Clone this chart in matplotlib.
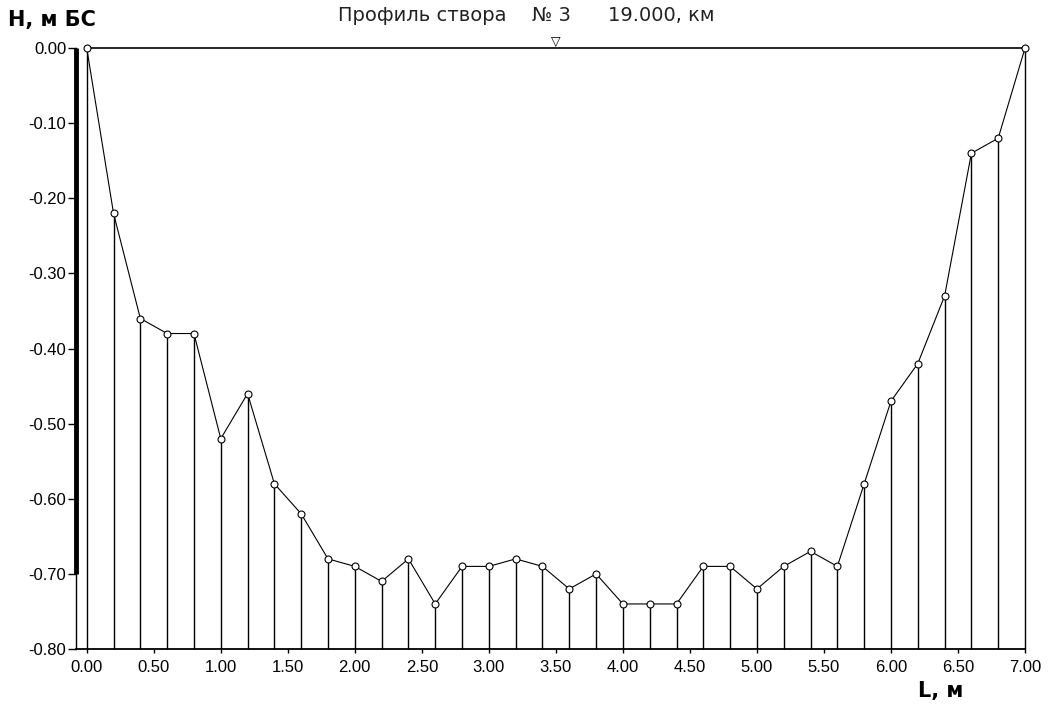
import matplotlib
matplotlib.use("Agg")
import matplotlib.pyplot as plt
import numpy as np

plt.rcParams['font.family'] = ['Liberation Sans', 'DejaVu Sans']

# cross-section profile: distance from left bank (m) and bed elevation (m)
dist = [0.0, 0.2, 0.4, 0.6, 0.8, 1.0, 1.2, 1.4, 1.6, 1.8, 2.0, 2.2,
        2.4, 2.6, 2.8, 3.0, 3.2, 3.4, 3.6, 3.8, 4.0, 4.2, 4.4, 4.6,
        4.8, 5.0, 5.2, 5.4, 5.6, 5.8, 6.0, 6.2, 6.4, 6.6, 6.8, 7.0]
depth = [0.00, -0.22, -0.36, -0.38, -0.38, -0.52, -0.46, -0.58, -0.62, -0.68, -0.69, -0.71,
         -0.68, -0.74, -0.69, -0.69, -0.68, -0.69, -0.72, -0.70, -0.74, -0.74, -0.74, -0.69,
         -0.69, -0.72, -0.69, -0.67, -0.69, -0.58, -0.47, -0.42, -0.33, -0.14, -0.12, 0.00]

water_level = 0.0
y_ticks = [0.0, -0.1, -0.2, -0.3, -0.4, -0.5, -0.6, -0.7, -0.8]
x_ticks = [0.0, 0.5, 1.0, 1.5, 2.0, 2.5, 3.0, 3.5, 4.0, 4.5, 5.0, 5.5, 6.0, 6.5, 7.0]

fig = plt.figure(figsize=(10.6, 7.07), dpi=100)
ax = fig.add_axes([0.0717, 0.082, 0.8953, 0.850])
ax.set_xlim(-0.08, 7.0)
ax.set_ylim(-0.80, 0.0)

# verticals from each sounding down to the base line
ax.vlines(dist, -0.80, depth, colors='black', lw=1.0, zorder=2, clip_on=False)
ax.plot(dist, depth, '-o', color='black', lw=0.8, ms=5, mfc='white', mew=0.8,
        clip_on=False, zorder=4)

# water surface with level mark
ax.plot([dist[0], dist[-1]], [water_level, water_level], color='black', lw=1.2,
        clip_on=False, zorder=3)
ax.annotate('▽', xy=(3.5, water_level), xytext=(0, 0), textcoords='offset points',
            ha='center', va='bottom', fontsize=9, family='DejaVu Sans', annotation_clip=False)

# bank wall on the left
ax.plot([-0.08, -0.08], [0.0, -0.70], color='black', lw=3.5, solid_capstyle='butt',
        clip_on=False, zorder=3)

for side in ['top', 'right']:
    ax.spines[side].set_visible(False)
ax.spines['left'].set_linewidth(1.0)
ax.spines['bottom'].set_linewidth(1.3)

ax.set_yticks(y_ticks)
ax.set_yticklabels([f'{v:.2f}' for v in y_ticks])
ax.set_xticks(x_ticks)
ax.set_xticklabels([f'{v:.2f}' for v in x_ticks])
ax.tick_params(axis='y', direction='out', length=6, width=1, pad=1, labelsize=12)
ax.tick_params(axis='x', direction='out', length=3, width=1, pad=5, labelsize=12)

title_kw = dict(ha='left', va='center', fontsize=14, family='DejaVu Sans', color='#222222')
fig.text(338 / 1060, 0.978, 'Профиль створа', **title_kw)
fig.text(532 / 1060, 0.978, '№ 3', **title_kw)
fig.text(608 / 1060, 0.978, '19.000, км', **title_kw)
fig.text(0.008, 0.972, 'H, м БС', ha='left', va='center', fontsize=15,
         fontweight='bold', family='DejaVu Sans')
fig.text(0.866, 0.022, 'L, м', ha='left', va='center', fontsize=15,
         fontweight='bold', family='DejaVu Sans')

fig.savefig('out.png', dpi=100)
